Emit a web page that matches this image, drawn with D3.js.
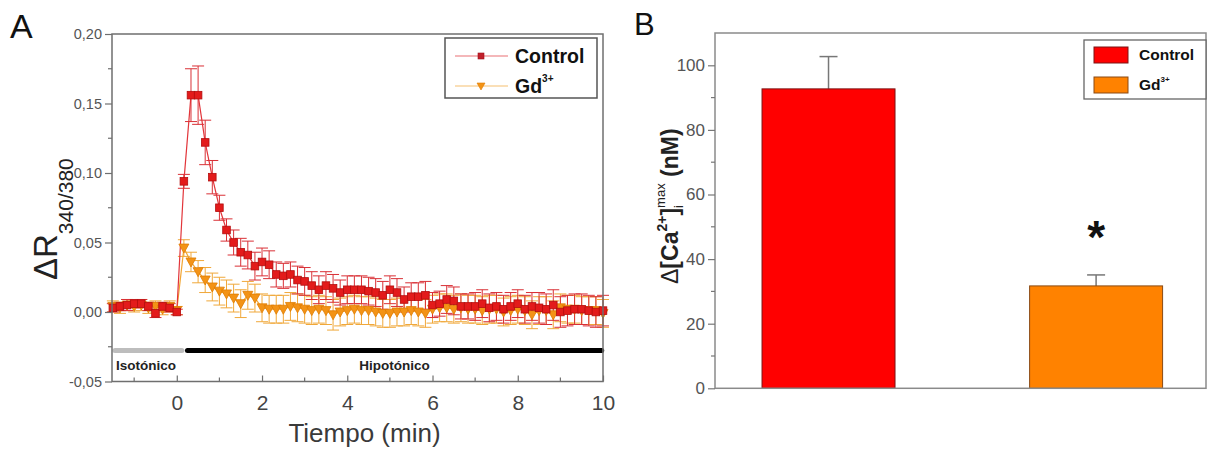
<!DOCTYPE html>
<html>
<head>
<meta charset="utf-8">
<script src="https://cdn.jsdelivr.net/npm/d3@7/dist/d3.min.js"></script>
<style>
  html, body { margin: 0; padding: 0; background: #fff; }
  svg { display: block; font-family: "Liberation Sans", Arial, sans-serif; }
</style>
</head>
<body>
<svg id="fig" width="1207" height="449"></svg>
<script>
// ---------- Panel A: time course of ΔR340/380 ----------
// sampling times (s)
const timeSec = [
  -90, -80, -70, -60, -50, -40, -30, -20, -10, 0,
  10, 20, 30, 40, 50, 60, 70, 80, 90, 100,
  110, 120, 130, 140, 150, 160, 170, 180, 190, 200,
  210, 220, 230, 240, 250, 260, 270, 280, 290, 300,
  310, 320, 330, 340, 350, 360, 370, 380, 390, 400,
  410, 420, 430, 440, 450, 460, 470, 480, 490, 500,
  510, 520, 530, 540, 550, 560, 570, 580, 590, 600
];
const controlMean = [
  0.003, 0.004, 0.005, 0.006, 0.006, 0.004, -0.001, 0.004, 0.003, 0.000,
  0.094, 0.156, 0.156, 0.122, 0.097, 0.075, 0.059, 0.050, 0.043, 0.041,
  0.033, 0.036, 0.034, 0.027, 0.026, 0.027, 0.023, 0.022, 0.019, 0.016,
  0.019, 0.017, 0.014, 0.016, 0.016, 0.016, 0.015, 0.014, 0.012, 0.016,
  0.014, 0.009, 0.011, 0.011, 0.012, 0.005, 0.006, 0.009, 0.008, 0.004,
  0.004, 0.004, 0.006, 0.003, 0.004, 0.002, 0.004, 0.006, 0.002, 0.004,
  0.003, 0.002, 0.005, 0.000, 0.001, 0.002, 0.002, 0.001, 0.000, 0.001
];
const controlSem = [
  0.003, 0.003, 0.004, 0.003, 0.003, 0.003, 0.003, 0.003, 0.003, 0.002,
  0.005, 0.019, 0.021, 0.016, 0.012, 0.009, 0.008, 0.009, 0.010, 0.010,
  0.010, 0.010, 0.010, 0.009, 0.009, 0.009, 0.010, 0.010, 0.010, 0.010,
  0.010, 0.010, 0.009, 0.010, 0.010, 0.010, 0.010, 0.010, 0.010, 0.010,
  0.010, 0.009, 0.010, 0.010, 0.010, 0.009, 0.009, 0.010, 0.010, 0.009,
  0.009, 0.010, 0.010, 0.010, 0.010, 0.010, 0.010, 0.010, 0.010, 0.010,
  0.011, 0.011, 0.011, 0.011, 0.011, 0.011, 0.011, 0.011, 0.011, 0.011
];
const gdMean = [
  0.004, 0.003, 0.005, 0.004, 0.005, 0.003, 0.004, 0.002, 0.004, 0.001,
  0.046, 0.036, 0.029, 0.023, 0.018, 0.015, 0.013, 0.010, 0.006, 0.012,
  0.010, 0.003, 0.002, 0.002, 0.002, 0.004, 0.003, 0.002, 0.001, 0.002,
  0.001, -0.002, 0.000, 0.001, 0.002, 0.001, 0.001, 0.000, -0.001, -0.001,
  0.000, 0.000, 0.001, 0.000, -0.001, 0.002, 0.003, 0.003, 0.002, 0.003,
  0.002, 0.002, 0.001, 0.002, 0.002, 0.000, 0.001, 0.002, 0.001, -0.002,
  0.001, 0.001, -0.002, 0.003, 0.002, 0.002, 0.001, 0.001, 0.001, -0.001
];
const gdSem = [
  0.004, 0.004, 0.004, 0.004, 0.004, 0.004, 0.004, 0.004, 0.004, 0.003,
  0.006, 0.007, 0.008, 0.009, 0.010, 0.010, 0.010, 0.010, 0.010, 0.010,
  0.010, 0.010, 0.010, 0.010, 0.010, 0.010, 0.010, 0.010, 0.010, 0.010,
  0.010, 0.011, 0.010, 0.010, 0.010, 0.010, 0.010, 0.010, 0.010, 0.010,
  0.010, 0.010, 0.010, 0.010, 0.010, 0.010, 0.010, 0.010, 0.010, 0.010,
  0.010, 0.010, 0.010, 0.010, 0.010, 0.010, 0.010, 0.010, 0.010, 0.010,
  0.010, 0.010, 0.010, 0.010, 0.010, 0.010, 0.010, 0.010, 0.010, 0.010
];
const yTicksA = [-0.05, 0.00, 0.05, 0.10, 0.15, 0.20];
const xTicksA = [0, 2, 4, 6, 8, 10];

// solution phases (min)
const phaseLabels = ["Isotónico", "Hipotónico"];
const phaseStart = [-1.45, 0.25];
const phaseEnd = [0.12, 9.97];

// ---------- Panel B: peak Δ[Ca2+]i ----------
const groups = ["Control", "Gd"];
const peakMean = [92.7, 31.7];
const peakSem = [10.0, 3.4];
const yTicksB = [0, 20, 40, 60, 80, 100];

const svg = d3.select("#fig");
const axisGrey = "#6f6f6f";
const tickText = "#555";
const FONT = "'Liberation Sans', Arial, sans-serif";

// ===== Panel A =====
const A = { left: 112, right: 603, top: 34, bottom: 381.5 };
const x = d3.scaleLinear().domain([-1.52, 10]).range([A.left, A.right]);
const y = d3.scaleLinear().domain([-0.05, 0.20]).range([A.bottom, A.top]);

const seriesA = [
  { name: "Gd", t: timeSec, m: gdMean, s: gdSem, line: "#f2a634", err: "#f0a83a", fill: "#f39316", stroke: "#e07c00", shape: "tri" },
  { name: "Control", t: timeSec, m: controlMean, s: controlSem, line: "#e2353a", err: "#d93036", fill: "#e31b1b", stroke: "#b30e0e", shape: "sq" }
];

const gA = svg.append("g");

// error bars
seriesA.forEach(sr => {
  const pts = sr.t.map((t, i) => ({ t: t / 60, m: sr.m[i], s: sr.s[i] }));
  const eg = gA.append("g").attr("stroke", sr.err).attr("stroke-width", 1).attr("fill", "none");
  eg.selectAll("path").data(pts).join("path")
    .attr("d", d => {
      const cx = x(d.t), y1 = y(d.m + d.s), y2 = y(d.m - d.s), w = 6;
      return `M${cx},${y1}V${y2}M${cx - w},${y1}H${cx + w}M${cx - w},${y2}H${cx + w}`;
    });
});

// lines
seriesA.forEach(sr => {
  const pts = sr.t.map((t, i) => ({ t: t / 60, m: sr.m[i] }));
  gA.append("path").datum(pts)
    .attr("fill", "none").attr("stroke", sr.line).attr("stroke-width", 1.2)
    .attr("d", d3.line().x(d => x(d.t)).y(d => y(d.m)));
});

// markers
const triDown = "M-5,-4L5,-4L0,5Z";
seriesA.forEach(sr => {
  const pts = sr.t.map((t, i) => ({ t: t / 60, m: sr.m[i] }));
  const mg = gA.append("g").attr("fill", sr.fill).attr("stroke", sr.stroke).attr("stroke-width", 0.8);
  if (sr.shape === "sq") {
    mg.selectAll("rect").data(pts).join("rect")
      .attr("x", d => x(d.t) - 3.8).attr("y", d => y(d.m) - 3.8)
      .attr("width", 7.6).attr("height", 7.6);
  } else {
    mg.selectAll("path").data(pts).join("path")
      .attr("transform", d => `translate(${x(d.t)},${y(d.m)})`)
      .attr("d", triDown);
  }
});

// phase bars
const phaseY = y(-0.0277);
const phaseColors = ["#bdbdbd", "#000"];
phaseLabels.forEach((lab, i) => {
  gA.append("line")
    .attr("x1", x(phaseStart[i])).attr("x2", x(phaseEnd[i]))
    .attr("y1", phaseY).attr("y2", phaseY)
    .attr("stroke", phaseColors[i]).attr("stroke-width", 5).attr("stroke-linecap", "round");
  const cx = i === 0 ? x(phaseStart[i]) + 1 : (x(phaseStart[i]) + x(phaseEnd[i])) / 2;
  gA.append("text")
    .attr("x", cx).attr("y", 370)
    .attr("text-anchor", i === 0 ? "start" : "middle")
    .attr("font-size", 13.5).attr("font-weight", "bold").attr("fill", "#222")
    .text(lab);
});

// frame
gA.append("rect")
  .attr("x", A.left).attr("y", A.top)
  .attr("width", A.right - A.left).attr("height", A.bottom - A.top)
  .attr("fill", "none").attr("stroke", axisGrey).attr("stroke-width", 1.5);

// y axis (outward ticks)
const yAxisA = d3.axisLeft(y).tickValues(yTicksA).tickSize(7).tickPadding(3)
  .tickFormat(d => d3.format(".2f")(d).replace(".", ",").replace("−", "-"));
const yaG = gA.append("g").attr("transform", `translate(${A.left},0)`).call(yAxisA);
yaG.select(".domain").remove();
yaG.selectAll(".tick line").attr("stroke", axisGrey).attr("stroke-width", 1.2);
yaG.selectAll(".tick text").attr("font-size", 14.5).attr("fill", tickText).attr("font-family", FONT);
const yMinorA = d3.range(0, 5).map(i => yTicksA[i] + 0.025);
gA.append("g").selectAll("line").data(yMinorA).join("line")
  .attr("x1", A.left - 4).attr("x2", A.left).attr("y1", d => y(d)).attr("y2", d => y(d))
  .attr("stroke", axisGrey).attr("stroke-width", 1.2);

// x axis (inward ticks)
const xAxisA = d3.axisBottom(x).tickValues(xTicksA).tickSize(-6).tickPadding(14).tickFormat(d3.format("d"));
const xaG = gA.append("g").attr("transform", `translate(0,${A.bottom})`).call(xAxisA);
xaG.select(".domain").remove();
xaG.selectAll(".tick line").attr("stroke", axisGrey).attr("stroke-width", 1.2);
xaG.selectAll(".tick text").attr("font-size", 21).attr("fill", "#444").attr("font-family", FONT);
const xMinorA = [-1, 1, 3, 5, 7, 9];
gA.append("g").selectAll("line").data(xMinorA).join("line")
  .attr("x1", d => x(d)).attr("x2", d => x(d)).attr("y1", A.bottom).attr("y2", A.bottom - 4)
  .attr("stroke", axisGrey).attr("stroke-width", 1.2);

// axis titles
gA.append("text").attr("x", (A.left + A.right) / 2 + 7).attr("y", 442)
  .attr("text-anchor", "middle").attr("font-size", 26).attr("fill", "#3a3a3a")
  .text("Tiempo (min)");
const yt = gA.append("text").attr("transform", "translate(57,280) rotate(-90)")
  .attr("fill", "#222");
yt.append("tspan").attr("font-size", 33).text("ΔR");
yt.append("tspan").attr("font-size", 21).attr("dy", 16).text("340/380");

// panel letter
svg.append("text").attr("x", 10).attr("y", 38).attr("font-size", 34).attr("fill", "#111").text("A");

// legend A
const LA = { x: 445, y: 38, w: 152, h: 60 };
gA.append("rect").attr("x", LA.x).attr("y", LA.y).attr("width", LA.w).attr("height", LA.h)
  .attr("fill", "#fff").attr("stroke", "#555").attr("stroke-width", 1.5);
const legA = [seriesA[1], seriesA[0]];
legA.forEach((sr, i) => {
  const ly = 56 + i * 30;
  gA.append("line").attr("x1", 455).attr("x2", 508).attr("y1", ly).attr("y2", ly)
    .attr("stroke", sr.line).attr("stroke-width", 1.2).attr("opacity", 0.7);
  if (sr.shape === "sq") {
    gA.append("rect").attr("x", 478).attr("y", ly - 3).attr("width", 6).attr("height", 6)
      .attr("fill", "#c0202a").attr("stroke", "#a01018").attr("stroke-width", 0.6);
  } else {
    gA.append("path").attr("transform", `translate(481,${ly})`).attr("d", "M-4,-3L4,-3L0,4Z")
      .attr("fill", sr.fill).attr("stroke", sr.stroke).attr("stroke-width", 0.6);
  }
  const t = gA.append("text").attr("x", 515).attr("y", ly + 7)
    .attr("font-size", 19.5).attr("font-weight", "bold").attr("fill", "#111");
  if (sr.name === "Control") {
    t.text("Control");
  } else {
    t.append("tspan").text("Gd");
    t.append("tspan").attr("font-size", 10).attr("dy", -11).text("3+");
  }
});

// ===== Panel B =====
const B = { left: 715, right: 1206, top: 33, bottom: 388.3 };
const xb = d3.scaleBand().domain(groups).range([B.left, B.right])
  .paddingInner(0.503).paddingOuter(0.169).align(0.52);
const yb = d3.scaleLinear().domain([0, 110]).range([B.bottom, B.top]);
const barFill = ["#ff0000", "#ff8200"];
const barStroke = ["#7c1414", "#8a4a14"];
const gB = svg.append("g");

gB.selectAll("line.err").data(groups).join("line").attr("class", "err")
  .attr("x1", d => xb(d) + xb.bandwidth() / 2).attr("x2", d => xb(d) + xb.bandwidth() / 2)
  .attr("y1", (d, i) => yb(peakMean[i])).attr("y2", (d, i) => yb(peakMean[i] + peakSem[i]))
  .attr("stroke", "#777").attr("stroke-width", 1.5);
gB.selectAll("line.cap").data(groups).join("line").attr("class", "cap")
  .attr("x1", d => xb(d) + xb.bandwidth() / 2 - 9).attr("x2", d => xb(d) + xb.bandwidth() / 2 + 9)
  .attr("y1", (d, i) => yb(peakMean[i] + peakSem[i])).attr("y2", (d, i) => yb(peakMean[i] + peakSem[i]))
  .attr("stroke", "#777").attr("stroke-width", 1.5);

gB.selectAll("rect.bar").data(groups).join("rect").attr("class", "bar")
  .attr("x", d => xb(d)).attr("width", xb.bandwidth())
  .attr("y", (d, i) => yb(peakMean[i])).attr("height", (d, i) => yb(0) - yb(peakMean[i]))
  .attr("fill", (d, i) => barFill[i]).attr("stroke", (d, i) => barStroke[i]).attr("stroke-width", 1);

// significance mark
gB.append("text").attr("x", xb("Gd") + xb.bandwidth() / 2).attr("y", 253)
  .attr("text-anchor", "middle").attr("font-size", 46).attr("font-weight", "bold").attr("fill", "#111")
  .text("*");

// frame
gB.append("rect").attr("x", B.left).attr("y", B.top)
  .attr("width", B.right - B.left).attr("height", B.bottom - B.top)
  .attr("fill", "none").attr("stroke", "#8a8a8a").attr("stroke-width", 1.5);

// y axis
const yAxisB = d3.axisLeft(yb).tickValues(yTicksB).tickSize(7).tickPadding(3);
const ybG = gB.append("g").attr("transform", `translate(${B.left},0)`).call(yAxisB);
ybG.select(".domain").remove();
ybG.selectAll(".tick line").attr("stroke", "#777").attr("stroke-width", 1.2);
ybG.selectAll(".tick text").attr("font-size", 17).attr("fill", tickText).attr("font-family", FONT);
const yMinorB = [10, 30, 50, 70, 90];
gB.append("g").selectAll("line").data(yMinorB).join("line")
  .attr("x1", B.left - 4).attr("x2", B.left).attr("y1", d => yb(d)).attr("y2", d => yb(d))
  .attr("stroke", "#777").attr("stroke-width", 1.2);

// y title: Δ[Ca2+]i^max (nM)
const ybt = gB.append("text").attr("transform", "translate(678,284) rotate(-90)")
  .attr("fill", "#222").attr("font-weight", "bold").attr("font-size", 23);
ybt.append("tspan").attr("font-weight", "normal").text("Δ");
ybt.append("tspan").text("[Ca");
ybt.append("tspan").attr("font-size", 14).attr("y", -11).text("2+");
ybt.append("tspan").attr("y", 0).text("]");
const subI = ybt.append("tspan").attr("font-size", 13).attr("font-weight", "normal").attr("y", 5).text("i");
const wI = subI.node().getComputedTextLength();
ybt.append("tspan").attr("font-size", 13).attr("font-weight", "normal").attr("y", -13).attr("dx", -wI).text("max");
ybt.append("tspan").attr("y", 0).text(" (nM)");

// panel letter
svg.append("text").attr("x", 634).attr("y", 35).attr("font-size", 31).attr("fill", "#111").text("B");

// legend B
gB.append("rect").attr("x", 1084).attr("y", 40).attr("width", 122).attr("height", 59)
  .attr("fill", "#fff").attr("stroke", "#666").attr("stroke-width", 1.3);
groups.forEach((g, i) => {
  const ly = 47 + i * 30;
  gB.append("rect").attr("x", 1094).attr("y", ly).attr("width", 34).attr("height", 16)
    .attr("fill", barFill[i]).attr("stroke", barStroke[i]).attr("stroke-width", 1);
  const t = gB.append("text").attr("x", 1139).attr("y", ly + 13)
    .attr("font-size", 15.5).attr("font-weight", "bold").attr("fill", "#111");
  if (g === "Control") {
    t.text("Control");
  } else {
    t.append("tspan").text("Gd");
    t.append("tspan").attr("font-size", 8).attr("dy", -8).text("3+");
  }
});
</script>
</body>
</html>
